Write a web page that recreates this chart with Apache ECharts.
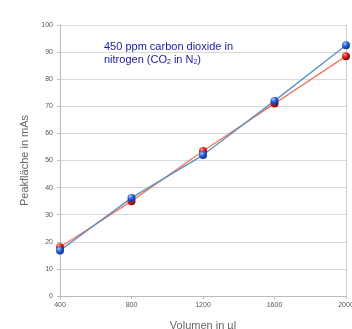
<!DOCTYPE html>
<html><head><meta charset="utf-8">
<script src="https://cdn.jsdelivr.net/npm/echarts@6/dist/echarts.min.js"></script>
<style>html,body{margin:0;padding:0;background:#fff}#c{width:352px;height:329px}</style>
</head><body><div id="c"></div>
<script>
const volumes = [400, 800, 1200, 1600, 2000];
const seriesRed = [18, 35, 53.5, 71, 88.5];
const seriesBlue = [16.8, 36.2, 52, 72, 92.5];
const yTicks = [0, 10, 20, 30, 40, 50, 60, 70, 80, 90, 100];

function pairs(xs, ys){ return xs.map((x,i)=>[x, ys[i]]); }
function ball(light, mid, dark){
  return {type:'radial', x:0.35, y:0.3, r:0.8, colorStops:[
    {offset:0, color:light},{offset:0.45, color:mid},{offset:1, color:dark}]};
}
const chart = echarts.init(document.getElementById('c'));
chart.setOption({
  animation:false,
  backgroundColor:'#fff',
  grid:{left:60, right:6, top:25, bottom:33, outerBoundsMode:'none', containLabel:false},
  xAxis:{type:'value', min:400, max:2000, interval:400,
    name:'Volumen in µl', nameLocation:'middle', nameGap:24,
    nameTextStyle:{color:'#666', fontSize:11, fontFamily:'Liberation Sans'},
    axisLine:{show:true, lineStyle:{color:'#bbb'}},
    axisTick:{show:true, length:3, lineStyle:{color:'#bbb'}},
    axisLabel:{color:'#555', fontSize:7, fontFamily:'Liberation Sans', margin:6,
      formatter:v=>String(v)},
    splitLine:{show:false}},
  yAxis:[{type:'value', min:0, max:100, interval:10,
    name:'Peakfläche in mAs', nameLocation:'middle', nameGap:23,
    nameTextStyle:{color:'#666', fontSize:11, fontFamily:'Liberation Sans'},
    axisLine:{show:true, lineStyle:{color:'#bbb'}},
    axisTick:{show:true, length:3, lineStyle:{color:'#bbb'}},
    axisLabel:{color:'#555', fontSize:7, fontFamily:'Liberation Sans', margin:7,
      formatter:v=>yTicks.includes(v)?String(v):''},
    splitLine:{show:true, lineStyle:{color:'#d9d9d9', width:1}}},
   {type:'value', min:0, max:100, position:'right',
    axisLine:{show:true, lineStyle:{color:'#d0d0d0'}},
    axisTick:{show:false}, axisLabel:{show:false}, splitLine:{show:false}}],
  graphic:[{type:'text', left:104, top:40, style:{
    text:'450 ppm carbon dioxide in\nnitrogen (CO{s|2} in N{s|2})',
    rich:{s:{fontSize:7, fill:'#1a1aa0', fontFamily:'Liberation Sans', padding:[5,0,0,0]}},
    fill:'#1a1aa0', fontSize:11, fontFamily:'Liberation Sans', lineHeight:13}}],
  series:[
    {type:'line', data:pairs(volumes, seriesRed), symbol:'circle', symbolSize:8,
     lineStyle:{color:'#f4785a', width:1.3},
     itemStyle:{color:ball('#ff9a9a','#d81818','#7a0000')}},
    {type:'line', data:pairs(volumes, seriesBlue), symbol:'circle', symbolSize:8,
     lineStyle:{color:'#5c8ec6', width:1.3},
     itemStyle:{color:ball('#a8c8ff','#1e5ad8','#0a2a80')}}
  ]
});
</script></body></html>
